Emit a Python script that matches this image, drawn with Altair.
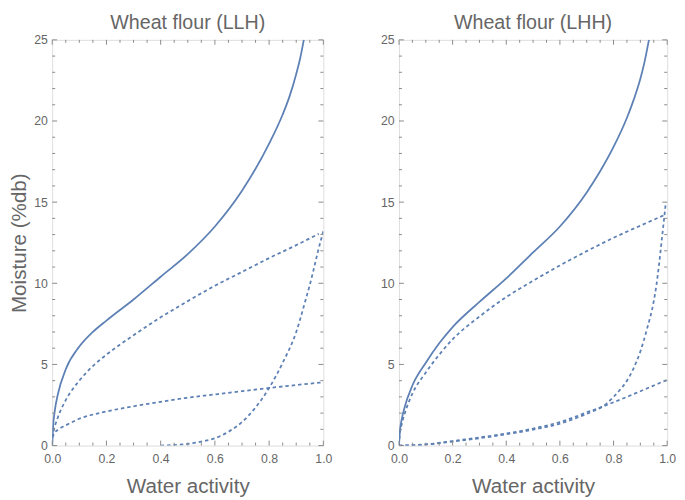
import altair as alt
import pandas as pd

# ---- data ----
# Left panel: Wheat flour (LLH)
llh_solid_x = [0, 0.003, 0.01, 0.02, 0.05, 0.1, 0.15, 0.2, 0.3, 0.4, 0.5, 0.6, 0.7, 0.8, 0.85, 0.875, 0.9, 0.915, 0.928]
llh_solid_y = [0, 1.1, 2.2, 3.1, 4.7, 6.1, 7.0, 7.7, 9.0, 10.4, 11.8, 13.5, 15.7, 18.6, 20.4, 21.5, 22.9, 23.9, 25.0]

llh_d1_x = [0, 0.005, 0.02, 0.05, 0.1, 0.15, 0.2, 0.3, 0.4, 0.5, 0.6, 0.7, 0.8, 0.9, 0.983]
llh_d1_y = [0.5, 0.9, 1.7, 2.8, 4.0, 4.9, 5.6, 6.8, 7.9, 8.9, 9.85, 10.7, 11.55, 12.35, 13.05]

llh_d2_x = [0, 0.01, 0.03, 0.05, 0.1, 0.2, 0.3, 0.4, 0.5, 0.6, 0.7, 0.8, 0.9, 1.0]
llh_d2_y = [0.5, 0.8, 1.07, 1.25, 1.65, 2.1, 2.42, 2.7, 2.95, 3.15, 3.35, 3.55, 3.73, 3.9]

llh_d3_x = [0.40, 0.5, 0.55, 0.6, 0.65, 0.7, 0.75, 0.8, 0.85, 0.9, 0.935, 0.95, 0.99, 1.0]
llh_d3_y = [0.0, 0.1, 0.25, 0.45, 0.85, 1.45, 2.35, 3.55, 5.1, 7.0, 9.0, 9.9, 12.6, 13.2]

# Right panel: Wheat flour (LHH)
lhh_solid_x = [0, 0.003, 0.01, 0.02, 0.05, 0.1, 0.15, 0.2, 0.3, 0.4, 0.5, 0.6, 0.7, 0.75, 0.8, 0.85, 0.875, 0.9, 0.915, 0.932]
lhh_solid_y = [0, 0.8, 1.6, 2.3, 3.7, 5.1, 6.3, 7.3, 8.85, 10.3, 11.9, 13.5, 15.6, 16.9, 18.4, 20.2, 21.3, 22.6, 23.6, 25.0]

lhh_d1_x = [0, 0.003, 0.01, 0.02, 0.05, 0.1, 0.15, 0.2, 0.3, 0.4, 0.5, 0.6, 0.7, 0.8, 0.9, 0.989]
lhh_d1_y = [0, 0.7, 1.3, 1.9, 3.2, 4.5, 5.6, 6.55, 7.95, 9.15, 10.15, 11.1, 11.98, 12.8, 13.55, 14.2]

lhh_d2_x = [0, 0.1, 0.2, 0.3, 0.4, 0.5, 0.6, 0.7, 0.775, 0.85, 0.9, 0.95, 1.0]
lhh_d2_y = [0, 0.06, 0.25, 0.45, 0.7, 0.98, 1.35, 1.95, 2.5, 3.0, 3.35, 3.7, 4.05]

lhh_d3_x = [0, 0.1, 0.2, 0.3, 0.4, 0.5, 0.6, 0.7, 0.775, 0.8, 0.83, 0.85, 0.873, 0.9, 0.925, 0.95, 0.96, 0.97, 0.98, 0.99, 0.995]
lhh_d3_y = [0, 0.07, 0.28, 0.5, 0.74, 1.05, 1.45, 2.05, 2.6, 3.0, 3.55, 4.0, 4.7, 5.8, 7.2, 8.9, 9.9, 11.2, 12.7, 14.2, 15.0]

x_major = [0.0, 0.2, 0.4, 0.6, 0.8, 1.0]
x_minor = [0.05, 0.1, 0.15, 0.25, 0.3, 0.35, 0.45, 0.5, 0.55, 0.65, 0.7, 0.75, 0.85, 0.9, 0.95]
y_major = [0, 5, 10, 15, 20, 25]
y_minor = [v for v in range(1, 25) if v % 5 != 0]

# ---- build tables ----
def series_df(name, xs, ys, style):
    return pd.DataFrame({"series": name, "x": xs, "y": ys, "style": style})

panels = {
    "LLH": [
        series_df("s", llh_solid_x, llh_solid_y, "solid"),
        series_df("d1", llh_d1_x, llh_d1_y, "dash"),
        series_df("d2", llh_d2_x, llh_d2_y, "dash"),
        series_df("d3", llh_d3_x, llh_d3_y, "dash"),
    ],
    "LHH": [
        series_df("s", lhh_solid_x, lhh_solid_y, "solid"),
        series_df("d1", lhh_d1_x, lhh_d1_y, "dash"),
        series_df("d2", lhh_d2_x, lhh_d2_y, "dash"),
        series_df("d3", lhh_d3_x, lhh_d3_y, "dash"),
    ],
}

H = 413
LINE = "#5E81B5"
FRAME = "#8a8a8a"
TEXT = "#666666"
FONT = "Liberation Sans"

xscale = alt.Scale(domain=[0, 1], nice=False, zero=False)
yscale = alt.Scale(domain=[0, 25], nice=False, zero=False)

xt_major = pd.DataFrame({"x": x_major})
xt_minor = pd.DataFrame({"x": x_minor})
yt_major = pd.DataFrame({"y": y_major})
yt_minor = pd.DataFrame({"y": y_minor})


def ticks(W):
    layers = []
    for df, ln in ((xt_major, 5), (xt_minor, 3)):
        base = alt.Chart(df).mark_rule(color=FRAME, strokeWidth=1)
        layers.append(base.encode(x=alt.X("x:Q", scale=xscale),
                                  y=alt.value(H), y2=alt.value(H - ln)))
        layers.append(base.encode(x=alt.X("x:Q", scale=xscale),
                                  y=alt.value(0), y2=alt.value(ln)))
    for df, ln in ((yt_major, 5), (yt_minor, 3)):
        base = alt.Chart(df).mark_rule(color=FRAME, strokeWidth=1)
        layers.append(base.encode(y=alt.Y("y:Q", scale=yscale),
                                  x=alt.value(0), x2=alt.value(ln)))
        layers.append(base.encode(y=alt.Y("y:Q", scale=yscale),
                                  x=alt.value(W - ln), x2=alt.value(W)))
    return layers


def panel(key, title, show_ytitle, W):
    dfs = panels[key]
    solid = pd.concat([d for d in dfs if d["style"].iloc[0] == "solid"])
    dashed = pd.concat([d for d in dfs if d["style"].iloc[0] == "dash"])
    xaxis = alt.Axis(values=x_major, format=".1f", ticks=False, domain=False, grid=False,
                     labelFlush=False, labelPadding=7, labelFontSize=12.5, labelColor=TEXT,
                     labelFont=FONT, title="Water activity", titleFontSize=21, titleFont=FONT,
                     titleColor=TEXT, titleFontWeight="normal", titlePadding=11)
    yaxis_kwargs = dict(values=y_major, ticks=False, domain=False, grid=False, labelFlush=False,
                        labelPadding=5, labelFontSize=12.5, labelColor=TEXT, labelFont=FONT)
    if show_ytitle:
        yaxis = alt.Axis(title="Moisture (%db)", titleFontSize=21, titleFont=FONT,
                         titleColor=TEXT, titleFontWeight="normal", titlePadding=4,
                         **yaxis_kwargs)
    else:
        yaxis = alt.Axis(title=None, **yaxis_kwargs)

    solid_layer = alt.Chart(solid).mark_line(color=LINE, strokeWidth=1.8, interpolate="monotone", clip=True).encode(
        x=alt.X("x:Q", scale=xscale, axis=xaxis),
        y=alt.Y("y:Q", scale=yscale, axis=yaxis),
        detail="series:N",
    )
    dashed_layer = alt.Chart(dashed).mark_line(color=LINE, strokeWidth=1.8, strokeDash=[3.5, 3],
                                               interpolate="monotone", clip=True).encode(
        x=alt.X("x:Q", scale=xscale),
        y=alt.Y("y:Q", scale=yscale),
        detail="series:N",
    )
    return alt.layer(solid_layer, dashed_layer, *ticks(W)).properties(
        width=W, height=H,
        title=alt.TitleParams(title, fontSize=20, font=FONT, color=TEXT,
                              fontWeight="normal", offset=1, anchor="middle"),
    )


chart = alt.hconcat(
    panel("LLH", "Wheat flour (LLH)", True, 276),
    panel("LHH", "Wheat flour (LHH)", False, 273),
    spacing=47,
).configure_view(stroke=FRAME, strokeWidth=1).configure(background="white", padding=0)

chart.save("out.html", embed_options={"renderer": "svg", "actions": False})
